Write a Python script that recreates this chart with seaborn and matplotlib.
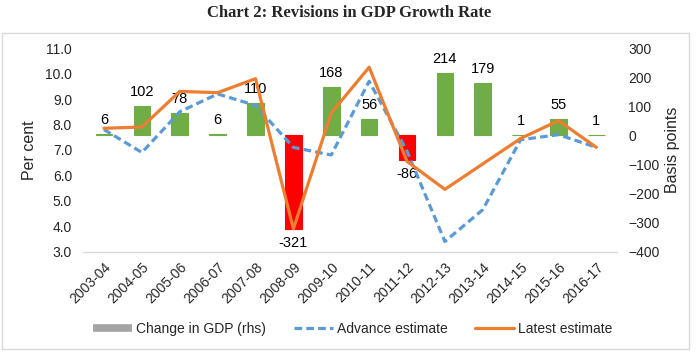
import matplotlib
matplotlib.use('Agg')

import numpy as np
import pandas as pd
import seaborn as sns
import matplotlib.pyplot as plt
from matplotlib.lines import Line2D
from matplotlib.patches import Rectangle

# Data
years = ['2003-04', '2004-05', '2005-06', '2006-07', '2007-08', '2008-09', '2009-10',
         '2010-11', '2011-12', '2012-13', '2013-14', '2014-15', '2015-16', '2016-17']
change_bp = [6, 102, 78, 6, 110, -321, 168, 56, -86, 214, 179, 1, 55, 1]
advance_est = [7.8, 6.9, 8.5, 9.2, 8.75, 7.1, 6.8, 9.7, 6.95, 3.4, 4.65, 7.4, 7.6, 7.1]
latest_est = [7.85, 7.9, 9.3, 9.25, 9.8, 3.9, 8.45, 10.25, 6.55, 5.45, 6.45, 7.45, 8.15, 7.1]

GREEN = '#70AD47'
RED = '#FF0000'
BLUE = '#5B9BD5'
ORANGE = '#ED7D31'
GREY = '#A5A5A5'

sns.set_style('white')
plt.rcParams['font.family'] = ['Liberation Sans', 'DejaVu Sans']

df = pd.DataFrame({'year': years, 'change': change_bp})
df['sign'] = np.where(df['change'] >= 0, 'up', 'down')

fig = plt.figure(figsize=(6.99, 3.54), dpi=100)
ax_bp = fig.add_axes([0.119, 0.289, 0.764, 0.575])
ax_pc = ax_bp.twinx()

# bars (basis points, right axis)
sns.barplot(data=df, x='year', y='change', hue='sign',
            palette={'up': GREEN, 'down': RED}, dodge=False, width=0.44,
            legend=False, ax=ax_bp, saturation=1)
for cont in ax_bp.containers:
    for bar in cont:
        bar.set_edgecolor(bar.get_facecolor())  # keeps the tiny 1-6 bp bars visible
        bar.set_linewidth(0.8)
    ax_bp.bar_label(cont, padding=5, fontsize=10.5, color='black')

# lines (per cent, left axis)
xpos = np.arange(len(years))
sns.lineplot(x=xpos, y=advance_est, color=BLUE, lw=2.3,
             linestyle=(0, (2.4, 1.3)), ax=ax_pc)
sns.lineplot(x=xpos, y=latest_est, color=ORANGE, lw=2.3, ax=ax_pc)

# swap sides so bars sit behind lines but ticks match the reference
ax_bp.yaxis.tick_right()
ax_bp.yaxis.set_label_position('right')
ax_pc.yaxis.tick_left()
ax_pc.yaxis.set_label_position('left')

ax_bp.set_ylim(-400, 300)
ax_bp.set_yticks(np.arange(-400, 301, 100))
ax_pc.set_ylim(3, 11)
ax_pc.set_yticks(np.arange(3, 11.01, 1))
ax_pc.set_yticklabels([f'{v:.1f}' for v in np.arange(3, 11.01, 1)])
ax_bp.set_xlim(-0.55, 13.55)

ax_bp.set_ylabel('Basis points', fontsize=11.5, labelpad=4)
ax_pc.set_ylabel('Per cent', fontsize=11.5, labelpad=6)
ax_bp.set_xlabel('')

ax_bp.tick_params(axis='y', labelsize=10, length=0, pad=8)
ax_pc.tick_params(axis='y', labelsize=10, length=0, pad=8)
ax_bp.tick_params(axis='x', labelsize=10, length=0, pad=6)
plt.setp(ax_bp.get_xticklabels(), rotation=45, ha='right', rotation_mode='anchor')

for a in (ax_bp, ax_pc):
    for s in a.spines.values():
        s.set_visible(False)
ax_pc.spines['bottom'].set_visible(True)
ax_pc.spines['bottom'].set_color('#D9D9D9')
ax_pc.spines['bottom'].set_linewidth(1)

fig.suptitle('Chart 2: Revisions in GDP Growth Rate', y=0.985, fontsize=12,
             fontweight='bold', family='Liberation Serif')

handles = [
    Line2D([0], [0], color=GREY, lw=5.5, solid_capstyle='butt'),
    Line2D([0], [0], color=BLUE, lw=2.3, linestyle=(0, (2.4, 1.3))),
    Line2D([0], [0], color=ORANGE, lw=2.3),
]
fig.legend(handles, ['Change in GDP (rhs)', 'Advance estimate', 'Latest estimate'],
           loc='center', bbox_to_anchor=(0.505, 0.072), ncol=3, frameon=False,
           fontsize=10, handlelength=2.8, handletextpad=0.3, columnspacing=2.0)

fig.add_artist(Rectangle((0.003, 0.014), 0.983, 0.894, transform=fig.transFigure,
                         fill=False, edgecolor='#D9D9D9', lw=1))

fig.savefig('out.png', dpi=100)
